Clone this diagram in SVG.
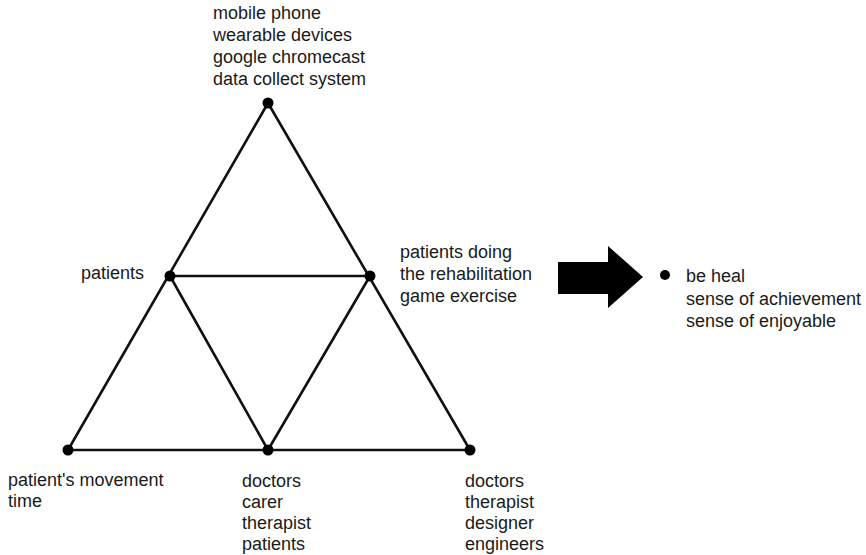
<svg xmlns="http://www.w3.org/2000/svg" width="866" height="555" viewBox="0 0 866 555">
  <style>
    .edge { stroke: #111; stroke-width: 2.6; fill: none; stroke-linecap: round; }
    .dot { fill: #000; }
    .lbl { font-family: "Liberation Sans", Arial, sans-serif; font-size: 18px; fill: #1a1a1a; }
  </style>
  <rect width="866" height="555" fill="#fff"/>

  <!-- triangle edges -->
  <g id="connectors">
    <line class="edge" x1="268" y1="103" x2="68" y2="450"/>
    <line class="edge" x1="268" y1="103" x2="470" y2="450"/>
    <line class="edge" x1="68" y1="450" x2="470" y2="450"/>
    <line class="edge" x1="170" y1="276" x2="370" y2="276"/>
    <line class="edge" x1="170" y1="276" x2="268" y2="450"/>
    <line class="edge" x1="370" y1="276" x2="268" y2="450"/>
  </g>

  <g id="node-top">
    <circle class="dot" cx="268" cy="103" r="5.5"/>
    <text class="lbl" x="213" y="19">mobile phone</text>
    <text class="lbl" x="213" y="41">wearable devices</text>
    <text class="lbl" x="213" y="63">google chromecast</text>
    <text class="lbl" x="213" y="85">data collect system</text>
  </g>

  <g id="node-left-mid">
    <circle class="dot" cx="170" cy="276" r="5.5"/>
    <text class="lbl" x="81" y="279">patients</text>
  </g>

  <g id="node-right-mid">
    <circle class="dot" cx="370" cy="276" r="5.5"/>
    <text class="lbl" x="400" y="258">patients doing</text>
    <text class="lbl" x="400" y="280">the rehabilitation</text>
    <text class="lbl" x="400" y="302">game exercise</text>
  </g>

  <g id="node-bottom-left">
    <circle class="dot" cx="68" cy="450" r="5.5"/>
    <text class="lbl" x="8" y="486">patient's movement</text>
    <text class="lbl" x="8" y="507">time</text>
  </g>

  <g id="node-bottom-mid">
    <circle class="dot" cx="268" cy="450" r="5.5"/>
    <text class="lbl" x="242" y="487">doctors</text>
    <text class="lbl" x="242" y="508">carer</text>
    <text class="lbl" x="242" y="529">therapist</text>
    <text class="lbl" x="242" y="550">patients</text>
  </g>

  <g id="node-bottom-right">
    <circle class="dot" cx="470" cy="450" r="5.5"/>
    <text class="lbl" x="465" y="487">doctors</text>
    <text class="lbl" x="465" y="508">therapist</text>
    <text class="lbl" x="465" y="529">designer</text>
    <text class="lbl" x="465" y="550">engineers</text>
  </g>

  <!-- block arrow leading to outcomes -->
  <g id="result-arrow">
    <polygon fill="#000" points="558,262 608,262 608,246 643,277 608,308 608,294 558,294"/>
  </g>

  <g id="node-outcome">
    <circle class="dot" cx="665" cy="275" r="5"/>
    <text class="lbl" x="686" y="282">be heal</text>
    <text class="lbl" x="686" y="305">sense of achievement</text>
    <text class="lbl" x="686" y="327">sense of enjoyable</text>
  </g>
</svg>
